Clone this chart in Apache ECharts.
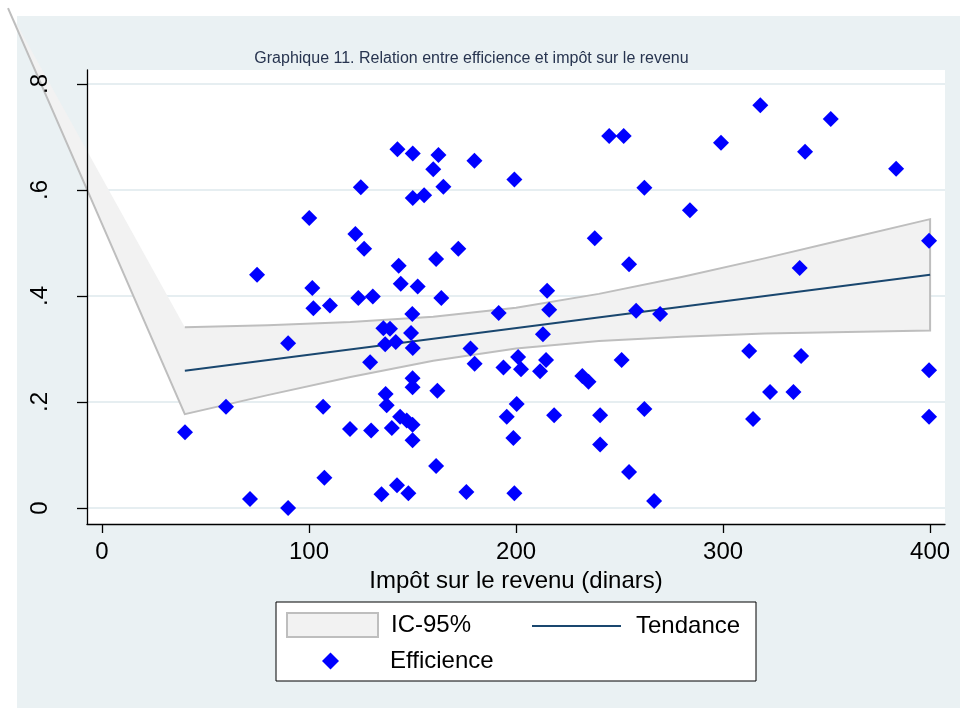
<!DOCTYPE html>
<html>
<head>
<meta charset="utf-8">
<script src="https://cdn.jsdelivr.net/npm/echarts@6/dist/echarts.min.js"></script>
<style>
  html, body { margin: 0; padding: 0; background: #ffffff; }
  #chart { width: 960px; height: 708px; }
</style>
</head>
<body>
<div id="chart"></div>
<script>
// Efficience (y) against income tax in dinars (x), one entry per observation
const effX = [
  40.1, 59.9, 71.5, 74.9, 89.9, 89.9, 100.1, 101.6, 102.1, 106.8,
  107.4, 110.1, 119.8, 122.4, 123.8, 125.0, 126.6, 129.5, 130.0, 130.8,
  135.0, 135.9, 136.8, 137.0, 137.5, 139.1, 140.0, 141.9, 142.5, 142.7,
  143.3, 144.0, 144.3, 147.2, 148.0, 149.3, 149.9, 150.1, 150.1, 150.1,
  150.0, 150.0, 150.0, 150.0, 152.5, 155.6, 160.0, 161.4, 161.4, 162.0,
  162.5, 163.9, 164.9, 172.1, 176.0, 178.0, 179.9, 180.0, 191.6, 193.9,
  195.5, 198.7, 199.2, 199.2, 201.0, 200.3, 202.4, 211.6, 213.0, 214.5,
  215.0, 216.0, 218.4, 232.0, 235.0, 238.0, 240.6, 240.6, 245.0, 252.0,
  251.0, 254.6, 254.6, 258.0, 262.0, 262.0, 266.7, 269.6, 284.0, 299.0,
  312.6, 314.5, 318.0, 322.7, 334.0, 337.0, 337.7, 339.6, 352.0, 383.6,
  399.5, 399.5, 399.5
];
const effY = [
  0.143, 0.191, 0.017, 0.440, 0.311, 0.000, 0.547, 0.415, 0.377, 0.191,
  0.057, 0.382, 0.149, 0.517, 0.396, 0.605, 0.489, 0.275, 0.146, 0.399,
  0.026, 0.339, 0.309, 0.215, 0.194, 0.338, 0.151, 0.313, 0.043, 0.677,
  0.457, 0.172, 0.423, 0.165, 0.028, 0.330, 0.366, 0.669, 0.585, 0.302,
  0.245, 0.228, 0.157, 0.128, 0.418, 0.590, 0.639, 0.470, 0.079, 0.221,
  0.666, 0.396, 0.606, 0.489, 0.030, 0.301, 0.655, 0.272, 0.368, 0.265,
  0.172, 0.132, 0.620, 0.028, 0.285, 0.196, 0.262, 0.258, 0.328, 0.279,
  0.410, 0.374, 0.175, 0.249, 0.238, 0.509, 0.175, 0.120, 0.702, 0.702,
  0.279, 0.460, 0.068, 0.372, 0.604, 0.187, 0.013, 0.366, 0.562, 0.689,
  0.296, 0.168, 0.760, 0.219, 0.219, 0.453, 0.287, 0.672, 0.734, 0.640,
  0.504, 0.260, 0.172
];

// Fitted line
const trendX = [40, 400];
const trendY = [0.259, 0.440];

// 95% confidence band (the first vertex is the stray point of the band outline)
const ciX     = [-45.4, 40, 80, 120, 160, 200, 240, 280, 320, 360, 400];
const ciUpper = [0.943, 0.341, 0.345, 0.351, 0.361, 0.378, 0.404, 0.436, 0.471, 0.508, 0.545];
const ciLower = [0.943, 0.177, 0.213, 0.247, 0.278, 0.301, 0.315, 0.323, 0.329, 0.332, 0.335];

// Axis ticks
const xTicks = [0, 100, 200, 300, 400];
const yTicks = [0, 0.2, 0.4, 0.6, 0.8];

const FONT = '"Liberation Sans", Arial, sans-serif';
const BG = '#EAF1F3';
const GRIDLINE = '#E6EEF1';
const CI_FILL = '#F2F2F2';
const CI_EDGE = '#BEBEBE';
const NAVY = '#1A476F';
const Y_MIN = -0.0302, Y_MAX = 0.8264;

const chart = echarts.init(document.getElementById('chart'), null, { renderer: 'canvas' });

const effData = effX.map((x, i) => [x, effY[i]]);
const trendData = trendX.map((x, i) => [x, trendY[i]]);
const ciData = ciX.map((x, i) => [x, ciUpper[i], ciLower[i]]);

function renderBand(params, api) {
  if (params.dataIndex !== 0) return null;
  const up = ciX.map((x, i) => api.coord([x, ciUpper[i]]));
  const lo = ciX.map((x, i) => api.coord([x, ciLower[i]]));
  const poly = up.concat(lo.slice().reverse());
  const outline = up.slice(1).concat(lo.slice().reverse());
  return {
    type: 'group',
    children: [
      { type: 'polygon', shape: { points: poly }, style: { fill: CI_FILL, stroke: null } },
      { type: 'polyline', shape: { points: outline }, style: { fill: null, stroke: CI_EDGE, lineWidth: 2 } }
    ]
  };
}

const legendText = pad => ({ fontFamily: FONT, fontSize: 24, color: '#000000', padding: [0, 0, 0, pad] });

const option = {
  animation: false,
  backgroundColor: '#ffffff',
  textStyle: { fontFamily: FONT },
  graphic: [
    { type: 'rect', z: -10, silent: true, shape: { x: 17, y: 16, width: 943, height: 692 }, style: { fill: BG } },
    { type: 'rect', z: 1, silent: true, shape: { x: 276, y: 602, width: 480, height: 79 }, style: { fill: '#ffffff', stroke: '#000000', lineWidth: 1 } }
  ],
  title: {
    text: 'Graphique 11. Relation entre efficience et impôt sur le revenu',
    left: 471.5,
    top: 51,
    padding: 0,
    textAlign: 'center',
    textStyle: { fontFamily: FONT, fontSize: 16, fontWeight: 'normal', color: '#27344F' }
  },
  grid: {
    left: 87, top: 70, width: 858, height: 454,
    show: true, backgroundColor: '#ffffff', borderWidth: 0
  },
  xAxis: {
    type: 'value',
    min: -7.25, max: 407.2,
    z: 10,
    name: 'Impôt sur le revenu (dinars)',
    nameLocation: 'middle',
    nameGap: 40,
    nameTextStyle: { fontFamily: FONT, fontSize: 24, color: '#000000' },
    axisLine: { show: true, onZero: false, lineStyle: { color: '#000000', width: 1.3 } },
    axisTick: { show: true, customValues: xTicks, length: 9, lineStyle: { color: '#000000', width: 1.3 } },
    axisLabel: { customValues: xTicks, margin: 16, fontFamily: FONT, fontSize: 24, color: '#000000' },
    splitLine: { show: false }
  },
  yAxis: [
    {
      // grid lines only, kept underneath the band
      type: 'value', position: 'left',
      min: Y_MIN, max: Y_MAX,
      axisLine: { show: false },
      axisTick: { show: false, customValues: yTicks },
      axisLabel: { show: false, customValues: yTicks },
      splitLine: { show: true, lineStyle: { color: GRIDLINE, width: 2 } }
    },
    {
      // axis line, ticks and labels drawn on top
      type: 'value', position: 'left',
      min: Y_MIN, max: Y_MAX,
      z: 10,
      axisLine: { show: true, onZero: false, lineStyle: { color: '#000000', width: 1.3 } },
      axisTick: { show: true, customValues: yTicks, length: 10, lineStyle: { color: '#000000', width: 1.3 } },
      axisLabel: {
        customValues: yTicks, rotate: 90, margin: 35,
        fontFamily: FONT, fontSize: 24, color: '#000000',
        formatter: v => (v === 0 ? '0' : v.toFixed(1).replace(/^0/, ''))
      },
      splitLine: { show: false }
    }
  ],
  legend: [
    {
      data: [{ name: 'IC-95%', icon: 'rect', itemStyle: { color: CI_FILL, borderColor: CI_EDGE, borderWidth: 2 } }],
      left: 286, top: 612, padding: 0, itemWidth: 91, itemHeight: 24, z: 5,
      selectedMode: false,
      textStyle: legendText(8)
    },
    {
      data: [{ name: 'Tendance', icon: 'rect', itemStyle: { color: NAVY, borderWidth: 0 } }],
      left: 532, top: 614, padding: 0, itemWidth: 89, itemHeight: 2, z: 5,
      selectedMode: false,
      textStyle: legendText(10)
    },
    {
      data: [{ name: 'Efficience', icon: 'diamond', itemStyle: { color: '#0000FF', opacity: 1 } }],
      left: 322, top: 649, padding: 0, itemWidth: 17, itemHeight: 17, z: 5,
      selectedMode: false,
      textStyle: legendText(46)
    }
  ],
  series: [
    {
      name: 'IC-95%',
      type: 'custom',
      clip: false,
      z: 2,
      yAxisIndex: 0,
      itemStyle: { color: CI_FILL, borderColor: CI_EDGE },
      renderItem: renderBand,
      encode: { x: 0, y: [1, 2] },
      data: ciData,
      silent: true
    },
    {
      name: 'Tendance',
      type: 'line',
      z: 3,
      yAxisIndex: 0,
      symbol: 'none',
      lineStyle: { color: NAVY, width: 2 },
      itemStyle: { color: NAVY },
      data: trendData,
      silent: true
    },
    {
      name: 'Efficience',
      type: 'scatter',
      z: 4,
      yAxisIndex: 0,
      symbol: 'diamond',
      symbolSize: 16,
      itemStyle: { color: '#0000FF', opacity: 1 },
      data: effData,
      silent: true
    }
  ]
};

chart.setOption(option);
</script>
</body>
</html>
